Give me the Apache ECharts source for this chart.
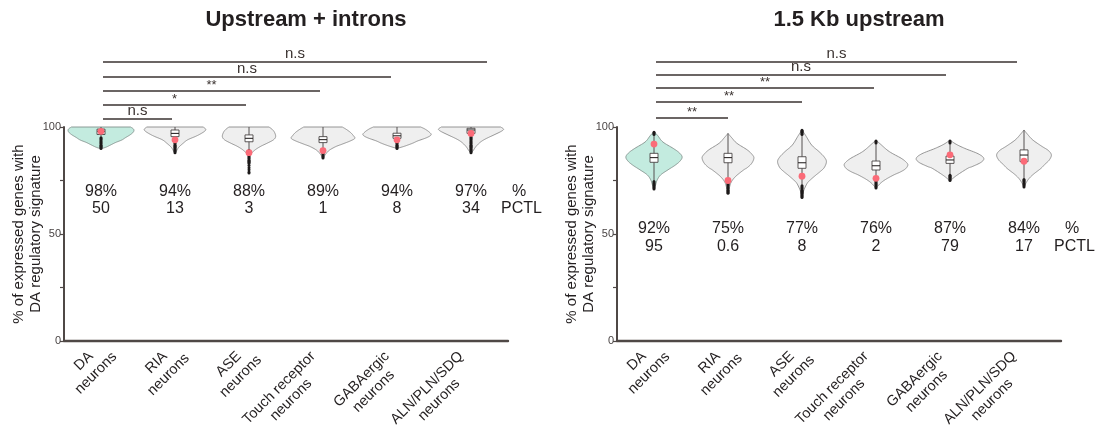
<!DOCTYPE html>
<html>
<head>
<meta charset="utf-8">
<script src="https://cdn.jsdelivr.net/npm/echarts@6/dist/echarts.min.js"></script>
<style>
  html, body { margin: 0; padding: 0; background: #ffffff; }
  #chart { width: 1098px; height: 427px; }
</style>
</head>
<body>
<div id="chart"></div>
<script>
// ---------- data ----------
const categories = ['DA\nneurons', 'RIA\nneurons', 'ASE\nneurons', 'Touch receptor\nneurons', 'GABAergic\nneurons', 'ALN/PLN/SDQ\nneurons'];
const yTicks = [0, 50, 100];

// Upstream + introns
const intronsPct = [98, 94, 88, 89, 94, 97];
const intronsPctl = ['50', '13', '3', '1', '8', '34'];
const intronsSig = ['n.s', '*', '**', 'n.s', 'n.s'];        // DA vs each other group
// [lower whisker, q1, median, q3, upper whisker]
const intronsBox = [
  [95.5, 96.5, 98.0, 99.0, 100],
  [93.0, 95.5, 97.0, 98.6, 100],
  [89.5, 93.1, 94.7, 96.3, 100],
  [90.0, 92.7, 94.1, 95.5, 100],
  [93.5, 94.7, 95.9, 97.1, 100],
  [96.0, 97.0, 98.6, 99.4, 100]
];
const intronsOutliers = [
  [95, 94.5, 94, 93.5, 93, 92.5, 92, 91.5, 91, 90.5, 90],
  [92.5, 92, 91.5, 91, 90.5, 90, 89.5, 89, 88.5, 88],
  [89, 88.5, 88, 87.5, 87, 86.5, 86, 85.5, 85, 84.5, 84, 83.5, 83, 82, 81, 80, 79, 78.5],
  [89.5, 89, 88.5, 88, 87.5, 87, 86.5, 86, 85.5],
  [93, 92.5, 92, 91.5, 91, 90.5, 90],
  [95.5, 95, 94.5, 94, 93.5, 93, 92.5, 92, 91.5, 91, 90.5, 90, 89.5, 89, 88.5, 88]
];
// density outline: [value, half width as a share of the category band]
const intronsViolin = [
  [[100, 0.40], [99, 0.44], [97.8, 0.44], [96.5, 0.40], [95, 0.33], [93.9, 0.28], [92.8, 0.20], [91.6, 0.13], [90.6, 0.07], [89.8, 0.0]],
  [[100, 0.38], [99, 0.415], [98, 0.40], [96.5, 0.33], [95.5, 0.27], [94, 0.17], [92.4, 0.11], [90.5, 0.05], [88.8, 0.02], [87.7, 0.0]],
  [[100, 0.27], [99, 0.31], [97.5, 0.345], [95.5, 0.36], [94, 0.33], [92.5, 0.25], [91, 0.16], [89.5, 0.09], [88, 0.04], [86.9, 0.0]],
  [[100, 0.26], [99, 0.31], [97.5, 0.37], [96, 0.41], [94.7, 0.43], [93.5, 0.37], [92, 0.26], [90.8, 0.17], [89, 0.08], [87, 0.03], [85.4, 0.0]],
  [[100, 0.32], [99, 0.38], [97.5, 0.44], [96.3, 0.46], [95, 0.40], [93.5, 0.28], [92.4, 0.21], [91, 0.10], [90, 0.0]],
  [[100, 0.40], [99, 0.44], [98, 0.41], [96.3, 0.31], [94.5, 0.20], [93, 0.13], [91, 0.07], [89, 0.03], [87.7, 0.0]]
];

// 1.5 Kb upstream
const upstreamPct = [92, 75, 77, 76, 87, 84];
const upstreamPctl = ['95', '0.6', '8', '2', '79', '17'];
const upstreamSig = ['**', '**', '**', 'n.s', 'n.s'];
const upstreamBox = [
  [75, 83.5, 85.7, 87.7, 96],
  [76, 83.3, 85.7, 87.7, 97],
  [73, 80.7, 83.3, 86.1, 96],
  [75, 79.9, 81.9, 84.1, 92],
  [78, 83.0, 84.6, 86.4, 92],
  [76, 83.8, 86.9, 89.3, 98.6]
];
const upstreamOutliers = [
  [96.5, 97, 97.5, 74.5, 74, 73.5, 73, 72.5, 72, 71.5, 71],
  [75, 74.5, 74, 73.5, 73, 72.5, 72, 71.5, 71, 70.5, 70, 69.5, 69],
  [96.5, 97, 97.5, 98, 98.5, 72.5, 72, 71.5, 71, 70.5, 70, 69.5, 69, 68.5, 68, 67.5, 67],
  [92.5, 93, 93.5, 74.5, 74, 73.5, 73, 72.5, 72, 71.5],
  [92.5, 93, 93.5, 77.5, 77, 76.5, 76, 75.5, 75],
  [75.5, 75, 74.5, 74, 73.5, 73, 72.5, 72]
];
const upstreamViolin = [
  [[97.8, 0], [96, 0.05], [93, 0.12], [90, 0.26], [88, 0.34], [86, 0.38], [84, 0.35], [82, 0.28], [80, 0.19], [77.6, 0.09], [75, 0.04], [72, 0.015], [70.6, 0]],
  [[97, 0], [95, 0.05], [92.4, 0.12], [89.3, 0.26], [87, 0.33], [85.4, 0.35], [83, 0.32], [81, 0.26], [79.9, 0.21], [76.8, 0.10], [74, 0.04], [71, 0.015], [69, 0]],
  [[98.6, 0], [96, 0.05], [91.6, 0.13], [88.5, 0.23], [86, 0.30], [83.8, 0.33], [81, 0.30], [79, 0.24], [77.6, 0.19], [75.5, 0.12], [73.7, 0.07], [70, 0.02], [66.7, 0]],
  [[93.9, 0], [92, 0.06], [88.5, 0.18], [85.4, 0.34], [83.5, 0.41], [82.2, 0.43], [80.5, 0.40], [79, 0.33], [77.6, 0.24], [75.5, 0.13], [73.7, 0.06], [71.4, 0]],
  [[93.9, 0], [92, 0.08], [90, 0.20], [87.5, 0.38], [85.4, 0.456], [83.5, 0.42], [81.5, 0.30], [80.7, 0.24], [77.6, 0.10], [76, 0.04], [74.8, 0]],
  [[98.6, 0], [96.5, 0.05], [93.9, 0.12], [91, 0.24], [89, 0.33], [86.9, 0.37], [84.5, 0.34], [82.5, 0.28], [80.7, 0.23], [78, 0.13], [76, 0.07], [74, 0.03], [72.1, 0]]
];

// ---------- styling / layout ----------
const FONT = '"Liberation Sans", Arial, Helvetica, sans-serif';
const INK = '#231f20';
const AXIS = '#4f4846';
const DA_FILL = '#c3ebdf';
const OTHER_FILL = '#efefef';
const MEAN_DOT = '#fb6b78';

const panels = [
  {
    title: 'Upstream + introns', pct: intronsPct, pctl: intronsPctl, sig: intronsSig,
    box: intronsBox, outliers: intronsOutliers, violin: intronsViolin,
    grid: { left: 64, top: 127, width: 444, height: 214 },
    rowY: [192, 209], sigY: [119, 105, 91, 77, 62], sigEnd: [-3, -3, -3, -6, 16]
  },
  {
    title: '1.5 Kb upstream', pct: upstreamPct, pctl: upstreamPctl, sig: upstreamSig,
    box: upstreamBox, outliers: upstreamOutliers, violin: upstreamViolin,
    grid: { left: 617, top: 127, width: 444, height: 214 },
    rowY: [229, 247], sigY: [118, 102, 88, 75, 62], sigEnd: [0, 0, -2, -4, -7]
  }
];

const measureCtx = document.createElement('canvas').getContext('2d');
function textWidth(str, font) {
  measureCtx.font = font;
  return measureCtx.measureText(str).width;
}

// Catmull-Rom through the outline points (pixel space)
function spline(pts, steps) {
  const out = [];
  const n = pts.length;
  for (let k = 0; k < n - 1; k++) {
    const p0 = pts[Math.max(k - 1, 0)], p1 = pts[k], p2 = pts[k + 1], p3 = pts[Math.min(k + 2, n - 1)];
    for (let s = 0; s < steps; s++) {
      const t = s / steps, t2 = t * t, t3 = t2 * t;
      const f = (a, b, c, d) => 0.5 * (2 * b + (-a + c) * t + (2 * a - 5 * b + 4 * c - d) * t2 + (-a + 3 * b - 3 * c + d) * t3);
      out.push([Math.max(0, f(p0[0], p1[0], p2[0], p3[0])), f(p0[1], p1[1], p2[1], p3[1])]);
    }
  }
  out.push(pts[n - 1]);
  return out;
}

function violinSeries(p, gi) {
  return {
    type: 'custom', xAxisIndex: gi, yAxisIndex: gi, clip: false, z: 3,
    data: categories.map((c, i) => [i, p.pct[i]]),
    renderItem: function (params, api) {
      const i = api.value(0);
      const cx = api.coord([i, 0])[0];
      const band = api.size([1, 0])[0];
      const prof = p.violin[i].map(d => [d[1] * band, api.coord([i, d[0]])[1]]);
      const right = spline(prof, 8);
      const pts = right.map(q => [cx + q[0], q[1]]);
      for (let k = right.length - 1; k >= 0; k--) pts.push([cx - right[k][0], right[k][1]]);
      const b = p.box[i];
      const y = v => api.coord([i, v])[1];
      const bw = 8;
      const children = [
        { type: 'polygon', shape: { points: pts },
          style: { fill: i === 0 ? DA_FILL : OTHER_FILL, stroke: i === 0 ? '#82918c' : '#8a8a8a', lineWidth: 0.9 } },
        { type: 'line', shape: { x1: cx, y1: y(b[0]), x2: cx, y2: y(b[4]) },
          style: { stroke: '#555050', lineWidth: 1 } }
      ];
      p.outliers[i].forEach(v => children.push({
        type: 'circle', shape: { cx: cx, cy: y(v), r: 1.5 }, style: { fill: '#1d1a1a' }
      }));
      children.push(
        { type: 'rect', shape: { x: cx - bw / 2, y: y(b[3]), width: bw, height: y(b[1]) - y(b[3]) },
          style: { fill: '#ffffff', stroke: '#4a4545', lineWidth: 0.9 } },
        { type: 'line', shape: { x1: cx - bw / 2, y1: y(b[2]), x2: cx + bw / 2, y2: y(b[2]) },
          style: { stroke: '#2e2a2a', lineWidth: 1.1 } },
        { type: 'circle', shape: { cx: cx, cy: api.coord([i, api.value(1)])[1], r: 3.4 },
          style: { fill: MEAN_DOT } }
      );
      return { type: 'group', children: children };
    }
  };
}

function statsSeries(p, gi) {
  const font = '16px ' + FONT;
  return {
    type: 'custom', xAxisIndex: gi, yAxisIndex: gi, clip: false, z: 4, silent: true,
    data: categories.map((c, i) => [i, 0]),
    renderItem: function (params, api) {
      const i = api.value(0);
      const cx = api.coord([i, 0])[0];
      const children = [
        { type: 'text', x: cx, y: p.rowY[0], style: { text: p.pct[i] + '%', font: font, fill: INK, align: 'center', verticalAlign: 'middle' } },
        { type: 'text', x: cx, y: p.rowY[1], style: { text: p.pctl[i], font: font, fill: INK, align: 'center', verticalAlign: 'middle' } }
      ];
      if (i === categories.length - 1) {
        children.push(
          { type: 'text', x: cx + 48, y: p.rowY[0], style: { text: '%', font: font, fill: INK, align: 'center', verticalAlign: 'middle' } },
          { type: 'text', x: cx + 30, y: p.rowY[1], style: { text: 'PCTL', font: font, fill: INK, align: 'left', verticalAlign: 'middle' } }
        );
      }
      return { type: 'group', children: children };
    }
  };
}

function sigSeries(p, gi) {
  return {
    type: 'custom', xAxisIndex: gi, yAxisIndex: gi, clip: false, z: 4, silent: true,
    data: p.sig.map((s, k) => [k + 1, 0]),
    renderItem: function (params, api) {
      const j = api.value(0);
      const x0 = api.coord([0, 0])[0] + 2;
      const x1 = api.coord([j, 0])[0] + p.sigEnd[j - 1];
      const yy = p.sigY[j - 1];
      const label = p.sig[j - 1];
      const star = label.indexOf('*') >= 0;
      return {
        type: 'group', children: [
          { type: 'line', shape: { x1: x0, y1: yy, x2: x1, y2: yy }, style: { stroke: '#3a3230', lineWidth: 1.5 } },
          { type: 'text', x: (x0 + x1) / 2, y: star ? yy + 1 : yy - 1,
            style: { text: label, font: (star ? '13px ' : '15px ') + FONT, fill: '#3a3230', align: 'center', verticalAlign: 'bottom' } }
        ]
      };
    }
  };
}

function xLabelSeries(p, gi) {
  const font = '14.5px ' + FONT;
  const lh = 17;
  const c = Math.SQRT1_2;
  return {
    type: 'custom', xAxisIndex: gi, yAxisIndex: gi, clip: false, z: 4, silent: true,
    data: categories.map((cat, i) => [i, 0]),
    renderItem: function (params, api) {
      const i = api.value(0);
      const pt = api.coord([i, 0]);
      const lines = categories[i].split('\n');
      const w1 = textWidth(lines[0], font);
      // the first line ends just below-left of the category centre; lines are centred on each other
      const ax = pt[0] - 10, ay = pt[1] + 13;
      const fx = ax - c * w1 / 2, fy = ay + c * w1 / 2;
      const bx = fx + c * lh / 2, by = fy + c * lh / 2;
      return {
        type: 'text', x: bx, y: by, rotation: Math.PI / 4,
        style: { text: categories[i], font: font, lineHeight: lh, fill: INK, align: 'center', verticalAlign: 'middle' }
      };
    }
  };
}

const option = {
  animation: false,
  backgroundColor: '#ffffff',
  grid: panels.map(p => Object.assign({ containLabel: false, outerBoundsMode: 'none' }, p.grid)),
  xAxis: panels.map((p, gi) => ({
    type: 'category', gridIndex: gi, data: categories, boundaryGap: true,
    axisLine: { lineStyle: { color: AXIS, width: 2.4 } },
    axisTick: { show: false }, axisLabel: { show: false }, splitLine: { show: false }
  })),
  yAxis: panels.map((p, gi) => ({
    type: 'value', gridIndex: gi, min: 0, max: 100, interval: 25,
    name: '% of expressed genes with\nDA regulatory signature',
    nameLocation: 'middle', nameGap: 20, nameRotate: 90, nameMoveOverlap: false,
    nameTextStyle: { fontFamily: FONT, fontSize: 15, lineHeight: 17, color: INK },
    axisLine: { show: true, lineStyle: { color: AXIS, width: 2 } },
    axisTick: { show: true, length: 4, lineStyle: { color: AXIS, width: 1.2 } },
    axisLabel: { fontFamily: FONT, fontSize: 11, color: '#4a4545', margin: 3,
      formatter: v => (yTicks.indexOf(v) >= 0 ? String(v) : '') },
    splitLine: { show: false }
  })),
  graphic: panels.map(p => ({
    type: 'text', x: p.grid.left + 242, y: 20,
    style: { text: p.title, font: 'bold 22px ' + FONT, fill: INK, align: 'center', verticalAlign: 'middle' }
  })),
  series: [].concat.apply([], panels.map((p, gi) => [violinSeries(p, gi), statsSeries(p, gi), sigSeries(p, gi), xLabelSeries(p, gi)]))
};

const chart = echarts.init(document.getElementById('chart'), null, { renderer: 'canvas' });
chart.setOption(option);
</script>
</body>
</html>
